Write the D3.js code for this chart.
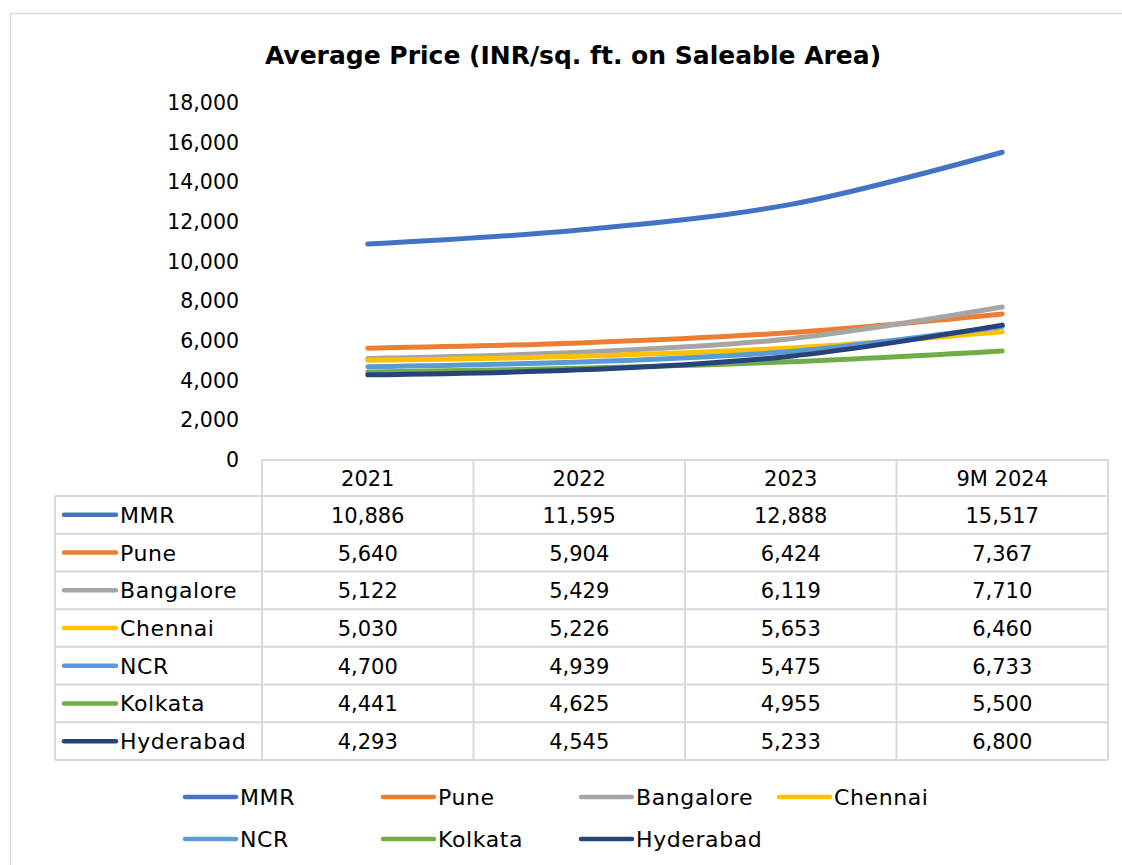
<!DOCTYPE html>
<html>
<head>
<meta charset="utf-8">
<script src="https://cdn.jsdelivr.net/npm/d3@7"></script>
<style>
  body { margin: 0; background: #fff; }
  svg { display: block; font-family: "DejaVu Sans", sans-serif; }
</style>
</head>
<body>
<div id="chart"></div>
<script>
// Data
var years = ["2021", "2022", "2023", "9M 2024"];
var cities = ["MMR", "Pune", "Bangalore", "Chennai", "NCR", "Kolkata", "Hyderabad"];
var mmr = [10886, 11595, 12888, 15517];
var pune = [5640, 5904, 6424, 7367];
var bangalore = [5122, 5429, 6119, 7710];
var chennai = [5030, 5226, 5653, 6460];
var ncr = [4700, 4939, 5475, 6733];
var kolkata = [4441, 4625, 4955, 5500];
var hyderabad = [4293, 4545, 5233, 6800];
var colors = ["#4472C4", "#ED7D31", "#A5A5A5", "#FFC000", "#5B9BD5", "#70AD47", "#264478"];
var yTicks = [0, 2000, 4000, 6000, 8000, 10000, 12000, 14000, 16000, 18000];

var series = [mmr, pune, bangalore, chennai, ncr, kolkata, hyderabad].map(function (v, i) {
    return { name: cities[i], values: v, color: colors[i] };
});

var W = 1122, H = 865;
var svg = d3.select("#chart").append("svg")
    .attr("width", W)
    .attr("height", H);

// chart frame
svg.append("rect")
    .attr("x", 10.5).attr("y", 13.5)
    .attr("width", W).attr("height", H)
    .attr("fill", "none")
    .attr("stroke", "#d9d9d9")
    .attr("stroke-width", 1.5);

// title
svg.append("text")
    .attr("x", 573).attr("y", 64)
    .attr("text-anchor", "middle")
    .style("font-weight", "bold")
    .style("font-size", "25px")
    .text("Average Price (INR/sq. ft. on Saleable Area)");

// scales
var x = d3.scaleBand().domain(years).range([262, 1108]);
var y = d3.scaleLinear().domain([0, 18000]).range([460, 103]);
var fmt = d3.format(",");

// y axis
var yAxis = svg.append("g")
    .attr("transform", "translate(262,0)")
    .call(d3.axisLeft(y).tickValues(yTicks).tickSize(0).tickPadding(23).tickFormat(fmt));
yAxis.select(".domain").remove();
yAxis.selectAll("text")
    .style("font-size", "20.5px")
    .style("font-family", "DejaVu Sans, sans-serif")
    .attr("fill", "#000");

// lines
var line = d3.line()
    .x(function (d, i) { return x(years[i]) + x.bandwidth() / 2; })
    .y(function (d) { return y(d); })
    .curve(d3.curveCatmullRom.alpha(0.5));

svg.append("g")
    .selectAll("path")
    .data(series)
    .enter()
    .append("path")
    .attr("d", function (d) { return line(d.values); })
    .attr("fill", "none")
    .attr("stroke", function (d) { return d.color; })
    .attr("stroke-width", 5)
    .attr("stroke-linecap", "round")
    .attr("stroke-linejoin", "round");

// data table
var headTop = 460, headBottom = 496;
var rows = d3.scaleBand().domain(cities).range([headBottom, 760]);
var tableLeft = 55;
var grid = svg.append("g")
    .attr("stroke", "#d9d9d9")
    .attr("stroke-width", 2)
    .attr("fill", "none");

// header row lines
grid.append("line")
    .attr("x1", x.range()[0]).attr("x2", x.range()[1])
    .attr("y1", headTop).attr("y2", headTop);
years.concat(["end"]).forEach(function (yr, i) {
    var xx = i < years.length ? x(yr) : x.range()[1];
    grid.append("line")
        .attr("x1", xx).attr("x2", xx)
        .attr("y1", headTop).attr("y2", 760);
});
grid.append("line")
    .attr("x1", tableLeft).attr("x2", tableLeft)
    .attr("y1", headBottom).attr("y2", 760);
cities.concat(["end"]).forEach(function (c, i) {
    var yy = i < cities.length ? rows(c) : 760;
    grid.append("line")
        .attr("x1", tableLeft).attr("x2", x.range()[1])
        .attr("y1", yy).attr("y2", yy);
});

// header labels
svg.append("g")
    .selectAll("text")
    .data(years)
    .enter()
    .append("text")
    .attr("x", function (d) { return x(d) + x.bandwidth() / 2; })
    .attr("y", (headTop + headBottom) / 2 + 8)
    .attr("text-anchor", "middle")
    .style("font-size", "21px")
    .text(function (d) { return d; });

// row labels, keys and values
var rowG = svg.append("g")
    .selectAll("g")
    .data(series)
    .enter()
    .append("g")
    .attr("transform", function (d) { return "translate(0," + (rows(d.name) + rows.bandwidth() / 2) + ")"; });

rowG.append("line")
    .attr("x1", 64).attr("x2", 116)
    .attr("y1", 0).attr("y2", 0)
    .attr("stroke", function (d) { return d.color; })
    .attr("stroke-width", 4.5)
    .attr("stroke-linecap", "round");

rowG.append("text")
    .attr("x", 120)
    .attr("y", 8)
    .style("font-size", "22px")
    .style("letter-spacing", "0.6px")
    .text(function (d) { return d.name; });

rowG.selectAll("text.val")
    .data(function (d) { return d.values; })
    .enter()
    .append("text")
    .attr("class", "val")
    .attr("x", function (d, i) { return x(years[i]) + x.bandwidth() / 2; })
    .attr("y", 8)
    .attr("text-anchor", "middle")
    .style("font-size", "21px")
    .text(function (d) { return fmt(d); });

// legend at bottom
var leg = svg.append("g")
    .selectAll("g")
    .data(series)
    .enter()
    .append("g")
    .attr("transform", function (d, i) {
        return "translate(" + (183 + (i % 4) * 198) + "," + (797 + Math.floor(i / 4) * 42) + ")";
    });

leg.append("line")
    .attr("x1", 2).attr("x2", 53)
    .attr("y1", 0).attr("y2", 0)
    .attr("stroke", function (d) { return d.color; })
    .attr("stroke-width", 4.5)
    .attr("stroke-linecap", "round");

leg.append("text")
    .attr("x", 57)
    .attr("y", 8)
    .style("font-size", "22px")
    .style("letter-spacing", "0.6px")
    .text(function (d) { return d.name; });
</script>
</body>
</html>
